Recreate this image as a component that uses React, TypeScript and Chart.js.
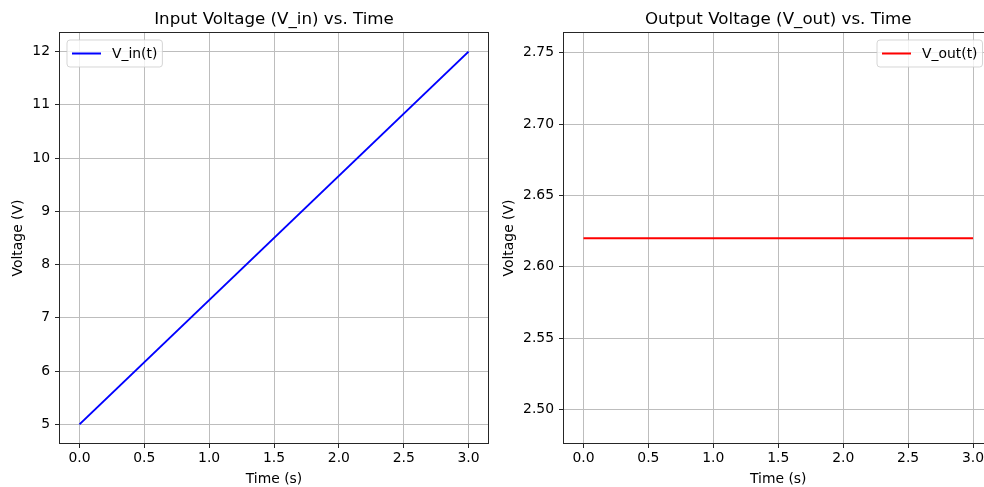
import React, { useEffect, useRef } from "react";
import { Chart, registerables } from "chart.js";

Chart.register(...registerables);

// ---- data ----
const timeS = [0, 3];
const vInValues = [5, 12];
const vOutValues = [2.62, 2.62];

const timeTicks = [0, 0.5, 1, 1.5, 2, 2.5, 3];
const vInTicks = [5, 6, 7, 8, 9, 10, 11, 12];
const vOutTicks = [2.5, 2.55, 2.6, 2.65, 2.7, 2.75];

const leftTitle = "Input Voltage (V_in) vs. Time";
const rightTitle = "Output Voltage (V_out) vs. Time";
const xAxisLabel = "Time (s)";
const yAxisLabel = "Voltage (V)";
const vInLabel = "V_in(t)";
const vOutLabel = "V_out(t)";

const FONT = '"DejaVu Sans", "Liberation Sans", sans-serif';
const TICK_SIZE = 13.9;
const TITLE_SIZE = 16.7;
const CANVAS_H = 488;

const mplPlugin = {
  id: "mplDecor",
  afterDraw(chart: any, _args: any, opts: any) {
    const { ctx, chartArea: a } = chart;
    ctx.save();
    // frame (spines)
    ctx.strokeStyle = "#262626";
    ctx.lineWidth = 1;
    ctx.strokeRect(
      Math.round(a.left) - 0.5,
      Math.round(a.top) - 0.5,
      Math.round(a.right) - Math.round(a.left) + 1,
      Math.round(a.bottom) - Math.round(a.top) + 1
    );
    // title
    ctx.fillStyle = "#000";
    ctx.font = `${TITLE_SIZE}px ${FONT}`;
    ctx.textAlign = "center";
    ctx.textBaseline = "alphabetic";
    ctx.fillText(opts.title, (a.left + a.right) / 2, 24);
    // legend
    ctx.font = `${TICK_SIZE}px ${FONT}`;
    const tw = ctx.measureText(opts.legendLabel).width;
    const w = 5 + 29 + 11 + tw + 5;
    const h = 27;
    const x = opts.legendCorner === "left" ? a.left + 7 : a.right - 10 - w;
    const y = a.top + 7;
    const r = 3;
    ctx.beginPath();
    ctx.moveTo(x + r, y);
    ctx.lineTo(x + w - r, y);
    ctx.arcTo(x + w, y, x + w, y + r, r);
    ctx.lineTo(x + w, y + h - r);
    ctx.arcTo(x + w, y + h, x + w - r, y + h, r);
    ctx.lineTo(x + r, y + h);
    ctx.arcTo(x, y + h, x, y + h - r, r);
    ctx.lineTo(x, y + r);
    ctx.arcTo(x, y, x + r, y, r);
    ctx.closePath();
    ctx.fillStyle = "rgba(255,255,255,0.8)";
    ctx.fill();
    ctx.strokeStyle = "rgba(204,204,204,0.8)";
    ctx.lineWidth = 1;
    ctx.stroke();
    ctx.strokeStyle = opts.legendColor;
    ctx.lineWidth = 2;
    ctx.beginPath();
    ctx.moveTo(x + 5, y + h / 2);
    ctx.lineTo(x + 34, y + h / 2);
    ctx.stroke();
    ctx.fillStyle = "#000";
    ctx.textAlign = "left";
    ctx.textBaseline = "middle";
    ctx.fillText(opts.legendLabel, x + 45, y + h / 2 + 0.5);
    ctx.restore();
  },
};

function makeConfig(p: {
  xs: number[];
  ys: number[];
  color: string;
  label: string;
  title: string;
  corner: string;
  yTicks: number[];
  yMin: number;
  yMax: number;
  yDecimals: number;
  padLeft: number;
  yWidth: number;
  padRight: number;
}): any {
  const points = p.xs.map((x, i) => ({ x, y: p.ys[i] }));
  const grid = {
    color: "#bdbdbd",
    lineWidth: 1,
    drawTicks: true,
    tickLength: 5,
    tickColor: "#262626",
    tickWidth: 1,
  };
  return {
    type: "scatter",
    data: {
      datasets: [
        {
          label: p.label,
          data: points,
          showLine: true,
          borderColor: p.color,
          backgroundColor: p.color,
          borderWidth: 2,
          pointRadius: 0,
          fill: false,
        },
      ],
    },
    options: {
      responsive: false,
      animation: false,
      devicePixelRatio: 1,
      layout: { padding: { left: p.padLeft, right: p.padRight, top: 33, bottom: 0 } },
      plugins: {
        legend: { display: false },
        title: { display: false },
        tooltip: { enabled: false },
        mplDecor: { title: p.title, legendLabel: p.label, legendColor: p.color, legendCorner: p.corner },
      },
      scales: {
        x: {
          type: "linear",
          min: -0.15,
          max: 3.15,
          grid,
          border: { display: false },
          afterBuildTicks: (s: any) => {
            s.ticks = timeTicks.map((v) => ({ value: v }));
          },
          afterFit: (s: any) => {
            s.height = CANVAS_H - 443;
          },
          ticks: {
            autoSkip: false,
            maxRotation: 0,
            padding: 2,
            color: "#000",
            font: { family: FONT, size: TICK_SIZE },
            callback: (v: any) => Number(v).toFixed(1),
          },
          title: {
            display: true,
            text: xAxisLabel,
            color: "#000",
            font: { family: FONT, size: TICK_SIZE, lineHeight: 1.2 },
            padding: { top: 0, bottom: 0 },
          },
        },
        y: {
          type: "linear",
          min: p.yMin,
          max: p.yMax,
          grid,
          border: { display: false },
          afterBuildTicks: (s: any) => {
            s.ticks = p.yTicks.map((v) => ({ value: v }));
          },
          afterFit: (s: any) => {
            s.width = p.yWidth;
          },
          ticks: {
            autoSkip: false,
            padding: 5,
            color: "#000",
            font: { family: FONT, size: TICK_SIZE },
            callback: (v: any) => Number(v).toFixed(p.yDecimals),
          },
          title: {
            display: true,
            text: yAxisLabel,
            color: "#000",
            font: { family: FONT, size: TICK_SIZE, lineHeight: 1.2 },
            padding: { top: 4, bottom: 0 },
          },
        },
      },
    },
    plugins: [mplPlugin],
  };
}

function ChartCanvas({ config, left, width }: { config: any; left: number; width: number }) {
  const ref = useRef<HTMLCanvasElement | null>(null);
  useEffect(() => {
    if (!ref.current) return;
    const chart = new Chart(ref.current, config);
    return () => chart.destroy();
  }, [config]);
  return (
    <canvas
      ref={ref}
      width={width}
      height={CANVAS_H}
      style={{ position: "absolute", left, top: 0, width, height: CANVAS_H, display: "block" }}
    />
  );
}

const leftConfig = makeConfig({
  xs: timeS,
  ys: vInValues,
  color: "#0000ff",
  label: vInLabel,
  title: leftTitle,
  corner: "left",
  yTicks: vInTicks,
  yMin: 4.65,
  yMax: 12.35,
  yDecimals: 0,
  padLeft: 6,
  yWidth: 54,
  padRight: 12,
});

const rightConfig = makeConfig({
  xs: timeS,
  ys: vOutValues,
  color: "#ff0000",
  label: vOutLabel,
  title: rightTitle,
  corner: "right",
  yTicks: vOutTicks,
  yMin: 2.4764,
  yMax: 2.7638,
  yDecimals: 2,
  padLeft: 5,
  yWidth: 67,
  padRight: 7.5,
});

export default function App() {
  return (
    <div
      style={{
        position: "fixed",
        left: 0,
        top: 0,
        width: 984,
        height: 487,
        overflow: "hidden",
        background: "#fff",
      }}
    >
      <ChartCanvas config={leftConfig} left={0} width={500} />
      <ChartCanvas config={rightConfig} left={492} width={508} />
    </div>
  );
}
